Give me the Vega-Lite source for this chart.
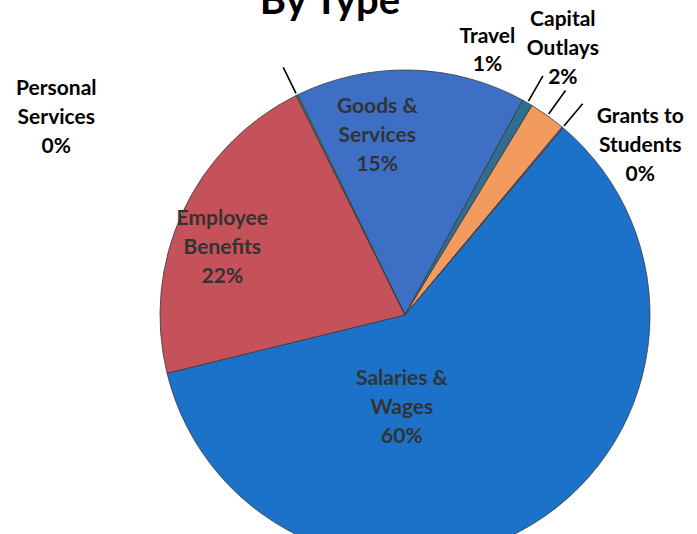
{
  "$schema": "https://vega.github.io/schema/vega-lite/v6.json",
  "width": 584,
  "height": 438,
  "autosize": {"type": "none"},
  "padding": {"left": 113, "top": 96, "right": 0, "bottom": 0},
  "background": "white",
  "title": {"text": "By Type", "font": "Lato", "fontSize": 40, "fontWeight": "bold", "color": "#000000", "anchor": "middle", "frame": "group", "baseline": "alphabetic", "dx": -75, "offset": -97},
  "config": {"view": {"stroke": null}},
  "data": {"values": [
    {"cat": "Goods & Services", "pct": 15.2, "ord": 1, "label": "Goods &\nServices\n15%"},
    {"cat": "Travel", "pct": 0.7, "ord": 2, "label": "Travel\n1%"},
    {"cat": "Capital Outlays", "pct": 2.4, "ord": 3, "label": "Capital\nOutlays\n2%"},
    {"cat": "Grants to Students", "pct": 0.1, "ord": 4, "label": "Grants to\nStudents\n0%"},
    {"cat": "Salaries & Wages", "pct": 60.0, "ord": 5, "label": "Salaries &\nWages\n60%"},
    {"cat": "Employee Benefits", "pct": 21.5, "ord": 6, "label": "Employee\nBenefits\n22%"},
    {"cat": "Personal Services", "pct": 0.1, "ord": 7, "label": "Personal\nServices\n0%"}
  ]},
  "encoding": {
    "theta": {"field": "pct", "type": "quantitative", "stack": true, "scale": {"range": [-0.4538, 5.8294]}},
    "order": {"field": "ord", "type": "quantitative"}
  },
  "layer": [
    {
      "mark": {"type": "arc", "outerRadius": 245, "stroke": "#3a3a3a", "strokeWidth": 0.8},
      "encoding": {
        "color": {"field": "cat", "type": "nominal", "legend": null,
          "scale": {"domain": ["Goods & Services", "Travel", "Capital Outlays", "Grants to Students", "Salaries & Wages", "Employee Benefits", "Personal Services"],
                    "range": ["#3d6fc5", "#2f6e8e", "#f39a5f", "#6a5aa0", "#1b72c8", "#c5515a", "#4a8a62"]}}
      }
    },
    {
      "mark": {"type": "arc", "innerRadius": 247, "outerRadius": 276, "padAngle": 0.5, "fillOpacity": 0, "stroke": "#000000", "strokeWidth": 1.6},
      "encoding": {
        "strokeOpacity": {"condition": {"test": "datum.cat === 'Travel' || datum.cat === 'Capital Outlays' || datum.cat === 'Grants to Students' || datum.cat === 'Personal Services'", "value": 1}, "value": 0}
      }
    },
    {
      "mark": {"type": "text", "radius": 178, "dx": -32, "dy": -30, "font": "Lato", "fontSize": 21, "fontWeight": "bold", "color": "#333333", "lineBreak": "\n", "lineHeight": 29, "baseline": "middle", "align": "center"},
      "encoding": {"text": {"condition": {"test": "datum.cat === 'Goods & Services'", "field": "label"}, "value": ""}}
    },
    {
      "mark": {"type": "text", "radius": 175, "dx": -24, "dy": -22, "font": "Lato", "fontSize": 21, "fontWeight": "bold", "color": "#333333", "lineBreak": "\n", "lineHeight": 29, "baseline": "middle", "align": "center"},
      "encoding": {"text": {"condition": {"test": "datum.cat === 'Employee Benefits'", "field": "label"}, "value": ""}}
    },
    {
      "mark": {"type": "text", "radius": 110, "dx": -61, "dy": -30, "font": "Lato", "fontSize": 21, "fontWeight": "bold", "color": "#333333", "lineBreak": "\n", "lineHeight": 29, "baseline": "middle", "align": "center"},
      "encoding": {"text": {"condition": {"test": "datum.cat === 'Salaries & Wages'", "field": "label"}, "value": ""}}
    },
    {
      "mark": {"type": "text", "radius": 260, "dx": -234, "dy": 7, "font": "Lato", "fontSize": 21, "fontWeight": "bold", "color": "#000000", "lineBreak": "\n", "lineHeight": 29, "baseline": "middle", "align": "center"},
      "encoding": {"text": {"condition": {"test": "datum.cat === 'Personal Services'", "field": "label"}, "value": ""}}
    },
    {
      "mark": {"type": "text", "radius": 275, "dx": -55, "dy": -40, "font": "Lato", "fontSize": 21, "fontWeight": "bold", "color": "#000000", "lineBreak": "\n", "lineHeight": 28, "baseline": "middle", "align": "center"},
      "encoding": {"text": {"condition": {"test": "datum.cat === 'Travel'", "field": "label"}, "value": ""}}
    },
    {
      "mark": {"type": "text", "radius": 280, "dx": -5, "dy": -67, "font": "Lato", "fontSize": 21, "fontWeight": "bold", "color": "#000000", "lineBreak": "\n", "lineHeight": 29, "baseline": "middle", "align": "center"},
      "encoding": {"text": {"condition": {"test": "datum.cat === 'Capital Outlays'", "field": "label"}, "value": ""}}
    },
    {
      "mark": {"type": "text", "radius": 280, "dx": 55, "dy": 16, "font": "Lato", "fontSize": 21, "fontWeight": "bold", "color": "#000000", "lineBreak": "\n", "lineHeight": 29, "baseline": "middle", "align": "center"},
      "encoding": {"text": {"condition": {"test": "datum.cat === 'Grants to Students'", "field": "label"}, "value": ""}}
    }
  ]
}
